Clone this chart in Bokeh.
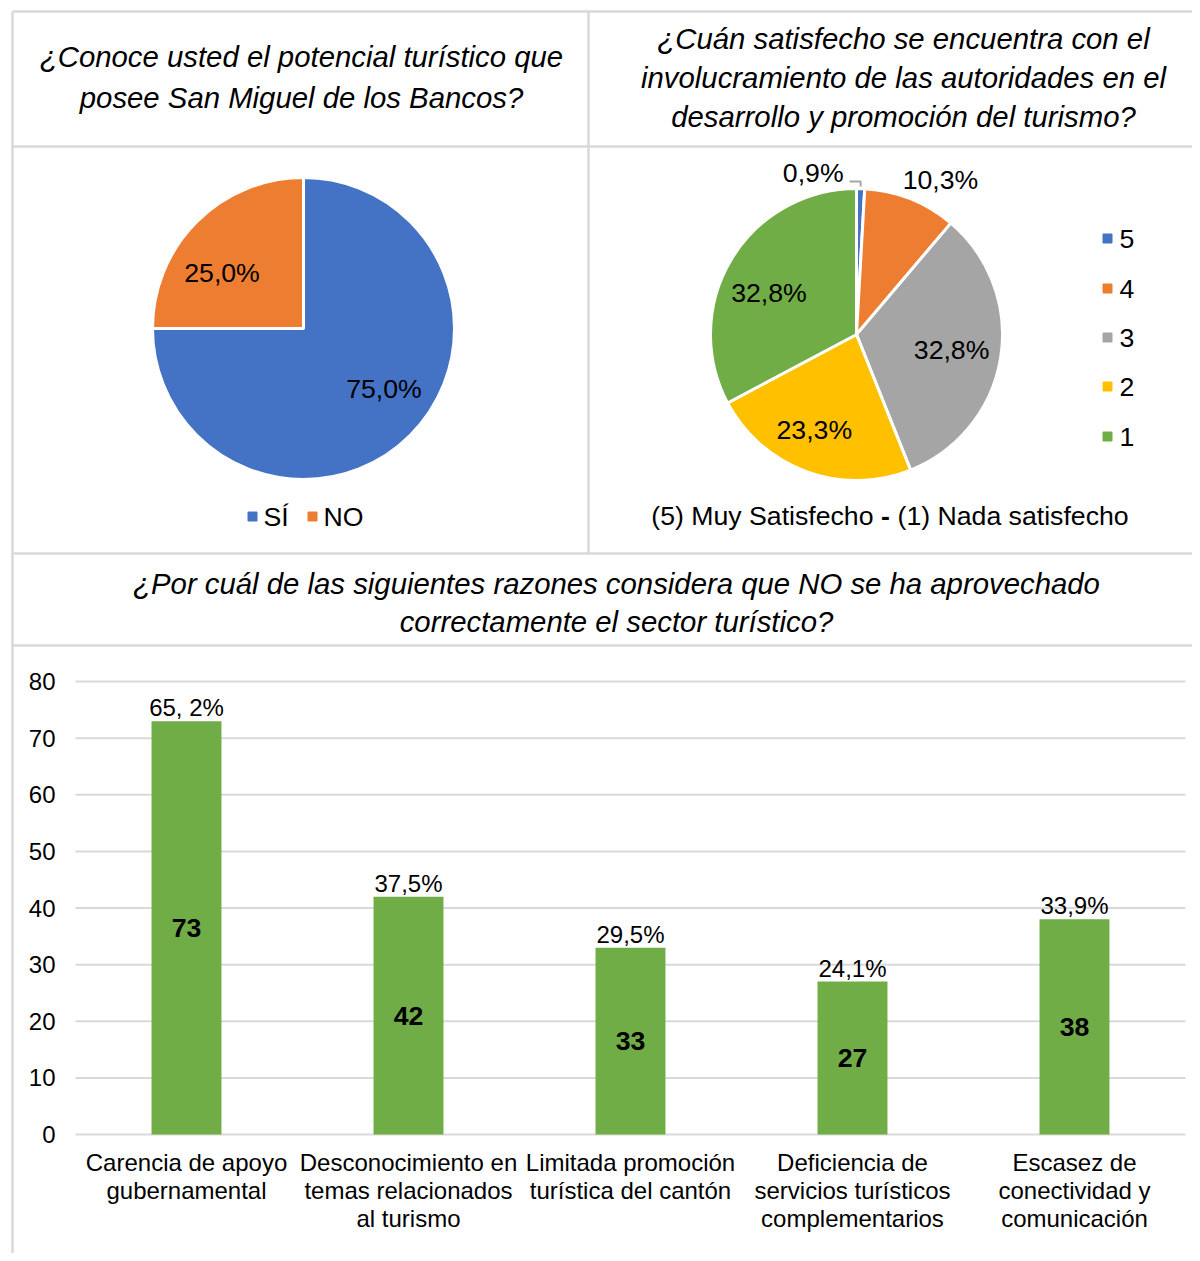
import numpy as np
from bokeh.plotting import figure
from bokeh.models import Range1d, LinearAxis, FixedTicker, ColumnDataSource
from bokeh.core.properties import value
from bokeh.embed import file_html
from bokeh.resources import INLINE

# ---------------- data ----------------
title_pie1 = "¿Conoce usted el potencial turístico que\nposee San Miguel de los Bancos?"
title_pie2 = ("¿Cuán satisfecho se encuentra con el\ninvolucramiento de las autoridades en el\n"
              "desarrollo y promoción del turismo?")
title_bar = "¿Por cuál de las siguientes razones considera que NO se ha aprovechado\ncorrectamente el sector turístico?"

pie1_labels = ["SÍ", "NO"]
pie1_values = [75.0, 25.0]
pie1_colors = ["#4472C4", "#ED7D31"]

pie2_labels = ["5", "4", "3", "2", "1"]
pie2_values = [0.9, 10.3, 32.8, 23.3, 32.8]
pie2_colors = ["#4472C4", "#ED7D31", "#A5A5A5", "#FFC000", "#70AD47"]
pie2_caption_left = "(5) Muy Satisfecho"
pie2_caption_mid = "-"
pie2_caption_right = "(1) Nada satisfecho"

bar_categories = ["Carencia de apoyo\ngubernamental",
                  "Desconocimiento en\ntemas relacionados\nal turismo",
                  "Limitada promoción\nturística del cantón",
                  "Deficiencia de\nservicios turísticos\ncomplementarios",
                  "Escasez de\nconectividad y\ncomunicación"]
bar_counts = [73, 42, 33, 27, 38]
bar_percent_labels = ["65, 2%", "37,5%", "29,5%", "24,1%", "33,9%"]
y_ticks = [0, 10, 20, 30, 40, 50, 60, 70, 80]

# ---------------- layout helpers ----------------
W, H = 1192, 1253
FONT = value("Liberation Sans")
BORDER = "#D9D9D9"
F_TITLE, F_PIE, F_BAR = "29.33px", "26.67px", "24px"


def Y(sy):
    """picture row -> default data y"""
    return H - sy


def pct(v):
    return f"{v:.1f}".replace(".", ",") + "%"


# bar chart scale: value 0 at picture row 1134, 80 at row 681; categories at 186 + 222*i
bar_y0, bar_px = 1134.0, (1134.0 - 681.0) / 80.0
bar_x0, bar_dx = 186.0, 222.0

p = figure(width=W, height=H, output_backend="svg", toolbar_location=None,
           x_range=Range1d(0, W), y_range=Range1d(0, H),
           x_axis_type=None, y_axis_type=None, min_border=0)
p.outline_line_color = None
p.xgrid.visible = False
p.ygrid.visible = False
p.background_fill_color = "white"
p.border_fill_color = "white"

p.extra_y_ranges = {"bar": Range1d((bar_y0 - H) / bar_px, bar_y0 / bar_px)}
p.extra_x_ranges = {"bar": Range1d((0 - bar_x0) / bar_dx, (W - bar_x0) / bar_dx)}

# ---------------- table borders ----------------
p.segment(x0=[12, 12, 588, 12, 12, 12], y0=[Y(11), Y(11), Y(11), Y(146), Y(553), Y(645)],
          x1=[1200, 12, 588, 1200, 1200, 1200], y1=[Y(11), Y(1261), Y(553), Y(146), Y(553), Y(645)],
          line_color=BORDER, line_width=2.5)

# ---------------- titles ----------------
for tx, ty, tt, lh in [(301, 76.5, title_pie1, 1.221), (903, 77, title_pie2, 1.175),
                       (616, 602, title_bar, 1.13)]:
    p.text(x=[tx], y=[Y(ty)], text=[tt], text_font=FONT, text_font_style="italic",
           text_font_size=F_TITLE, text_align="center", text_baseline="middle",
           text_line_height=lh, text_color="#000000")


# ---------------- pies ----------------
def pie(values, colors, cx, cy, r):
    vals = np.array(values, dtype=float)
    frac = vals / vals.sum()
    cum_end = np.cumsum(frac)
    cum_start = cum_end - frac
    start = np.pi / 2 - 2 * np.pi * cum_end
    end = np.pi / 2 - 2 * np.pi * cum_start
    mid = 2 * np.pi * (cum_start + cum_end) / 2  # clockwise from top
    src = ColumnDataSource(dict(start=start, end=end, color=colors))
    p.wedge(x=cx, y=cy, radius=r, start_angle="start", end_angle="end",
            fill_color="color", line_color="white", line_width=3, source=src)
    return mid


# pie 1
c1x, c1y, r1 = 303, Y(328), 151
mid1 = pie(pie1_values, pie1_colors, c1x, c1y, r1)
lab1_dx = [10, -11]
lab1_dy = [10, -15]
p.text(x=c1x + 0.66 * r1 * np.sin(mid1) + np.array(lab1_dx),
       y=c1y + 0.66 * r1 * np.cos(mid1) + np.array(lab1_dy),
       text=[pct(v) for v in pie1_values], text_font=FONT, text_font_size=F_PIE,
       text_align="center", text_baseline="middle", text_color="#000000")

# legend pie 1
leg1_x = [252, 312]
p.scatter(x=leg1_x, y=Y(516), marker="square", size=9, color=pie1_colors)
p.text(x=np.array(leg1_x) + 11, y=Y(516), text=pie1_labels, text_font=FONT,
       text_font_size=F_PIE, text_align="left", text_baseline="middle", text_color="#000000")

# pie 2
c2x, c2y, r2 = 856, Y(334), 146
mid2 = pie(pie2_values, pie2_colors, c2x, c2y, r2)
lab2_r = np.array([1.0, 1.2, 0.66, 0.66, 0.66])
lab2_dx = np.array([0, 19, 0, -9, -5])
lab2_dy = np.array([0, -8, 0, -5, -8])
lx = c2x + lab2_r * r2 * np.sin(mid2) + lab2_dx
ly = c2y + lab2_r * r2 * np.cos(mid2) + lab2_dy
p.text(x=lx[1:], y=ly[1:], text=[pct(v) for v in pie2_values[1:]], text_font=FONT,
       text_font_size=F_PIE, text_align="center", text_baseline="middle", text_color="#000000")
# outside label of the smallest slice with leader line
ex, ey = lx[0], ly[0] + 2
p.line(x=[ex - 11, ex, ex], y=[ey + 5, ey + 5, ey], line_color="#A6A6A6", line_width=2)
p.text(x=[ex - 17], y=[ey + 14], text=[pct(pie2_values[0])], text_font=FONT,
       text_font_size=F_PIE, text_align="right", text_baseline="middle", text_color="#000000")

# legend pie 2
leg2_y = Y(np.array([238, 288, 337, 386, 436]))
p.scatter(x=1107, y=leg2_y, marker="square", size=9, color=pie2_colors)
p.text(x=1119, y=leg2_y, text=pie2_labels, text_font=FONT, text_font_size=F_PIE,
       text_align="left", text_baseline="middle", text_color="#000000")

# caption pie 2
p.text(x=[873], y=[Y(515)], text=[pie2_caption_left], text_font=FONT, text_font_size=F_PIE,
       text_align="right", text_baseline="middle", text_color="#000000")
p.text(x=[885], y=[Y(515)], text=[pie2_caption_mid], text_font=FONT, text_font_size=F_PIE,
       text_font_style="bold", text_align="center", text_baseline="middle", text_color="#000000")
p.text(x=[897], y=[Y(515)], text=[pie2_caption_right], text_font=FONT, text_font_size=F_PIE,
       text_align="left", text_baseline="middle", text_color="#000000")

# ---------------- bar chart ----------------
idx = np.arange(len(bar_counts))
p.segment(x0=75, x1=1185, y0=y_ticks, y1=y_ticks, y_range_name="bar",
          line_color=BORDER, line_width=2)
p.vbar(x=idx, top=bar_counts, bottom=0, width=0.315, x_range_name="bar", y_range_name="bar",
       fill_color="#70AD47", line_color=None)
p.text(x=idx, y=bar_counts, text=bar_percent_labels, x_range_name="bar", y_range_name="bar",
       text_font=FONT, text_font_size=F_BAR, text_align="center", text_baseline="bottom",
       y_offset=0, text_color="#000000")
p.text(x=idx, y=np.array(bar_counts) / 2.0, text=[str(c) for c in bar_counts],
       x_range_name="bar", y_range_name="bar", text_font=FONT, text_font_size=F_PIE,
       text_font_style="bold", text_align="center", text_baseline="middle", text_color="#000000")
p.text(x=idx, y=0, text=bar_categories, x_range_name="bar", y_range_name="bar",
       text_font=FONT, text_font_size=F_BAR, text_align="center", text_baseline="top",
       y_offset=14, text_line_height=1.044, text_color="#000000")

yaxis = LinearAxis(y_range_name="bar", ticker=FixedTicker(ticks=y_ticks), fixed_location=75,
                   bounds=(0, 80))
yaxis.axis_line_color = None
yaxis.major_tick_line_color = None
yaxis.minor_tick_line_color = None
yaxis.major_tick_out = 0
yaxis.major_tick_in = 0
yaxis.major_label_standoff = 20
yaxis.major_label_text_font = "Liberation Sans"
yaxis.major_label_text_font_size = F_BAR
yaxis.major_label_text_color = "#000000"
p.add_layout(yaxis, "left")

open("out.html", "w").write(file_html(p, INLINE))
